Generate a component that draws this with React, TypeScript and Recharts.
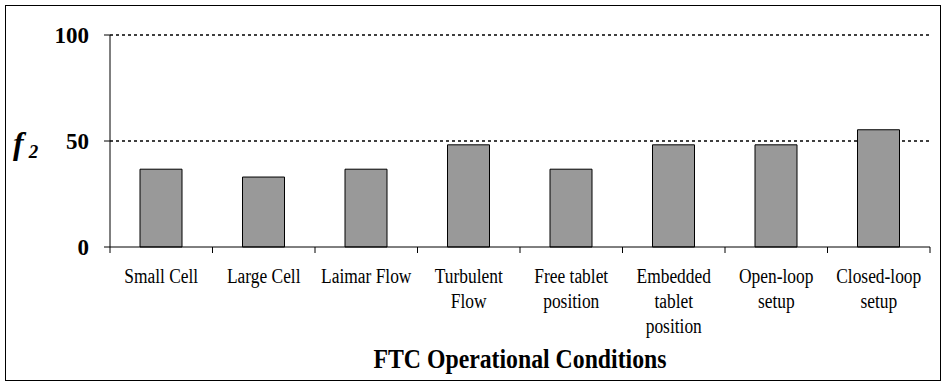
import React from 'react'
import { BarChart, Bar, XAxis, YAxis, CartesianGrid, Label } from 'recharts'

// FTC operational conditions (multi-line labels split on \n)
const conditions = [
  'Small Cell',
  'Large Cell',
  'Laimar Flow',
  'Turbulent\nFlow',
  'Free tablet\nposition',
  'Embedded\ntablet\nposition',
  'Open-loop\nsetup',
  'Closed-loop\nsetup',
]
const f2Values = [36.7, 33.0, 36.7, 48.2, 36.7, 48.2, 48.2, 55.3]
const yTicks = [0, 50, 100]
const xTitle = 'FTC Operational Conditions'

const data = conditions.map((c, i) => ({ name: c, f2: f2Values[i] }))

const W = 946
const H = 385
const TOP = 35
const LEFT = 110
const RIGHT = 16
const XAXIS_H = 138
const AXIS_Y = H - XAXIS_H
const BAND = (W - LEFT - RIGHT) / conditions.length
const FONT = "'Liberation Serif', 'Times New Roman', serif"

function CategoryTick(props: any) {
  const { x, payload, index } = props
  const lines = String(payload.value).split('\n')
  const left = x - BAND / 2
  return (
    <g>
      <line x1={left} x2={left} y1={AXIS_Y} y2={AXIS_Y + 6} stroke="#000" />
      {index === conditions.length - 1 && (
        <line x1={left + BAND} x2={left + BAND} y1={AXIS_Y} y2={AXIS_Y + 6} stroke="#000" />
      )}
      <text
        transform={`translate(${x},0) scale(0.87,1)`}
        textAnchor="middle"
        style={{ fontFamily: FONT, fontSize: 20 }}
        fill="#000"
      >
        {lines.map((l, i) => (
          <tspan key={i} x={0} y={AXIS_Y + 36 + i * 25}>
            {l}
          </tspan>
        ))}
      </text>
    </g>
  )
}

function ValueTick(props: any) {
  const { x, y, payload } = props
  return (
    <text
      x={x}
      y={y + 8}
      textAnchor="end"
      style={{ fontFamily: FONT, fontSize: 23, fontWeight: 'bold' }}
      fill="#000"
    >
      {payload.value}
    </text>
  )
}

// dotted grid lines, skipping the one that sits on the x axis
function GridLine(props: any) {
  const { x1, x2, y1, y2 } = props
  if (Math.abs(y1 - AXIS_Y) < 1) return <g />
  return <line x1={x1} x2={x2} y1={y1} y2={y2} stroke="#000" strokeWidth={1.5} strokeDasharray="3 3" />
}

export default function App() {
  return (
    <div style={{ position: 'absolute', left: 0, top: 0, width: W, height: H, background: '#fff', fontFamily: FONT }}>
      <div
        style={{
          position: 'absolute',
          left: 5,
          top: 5,
          width: 936,
          height: 376,
          border: '1px solid #000',
          boxSizing: 'border-box',
        }}
      />
      <BarChart
        width={W}
        height={H}
        data={data}
        margin={{ top: TOP, right: RIGHT, left: 0, bottom: 0 }}
        style={{ position: 'absolute', left: 0, top: 0, fontFamily: FONT }}
      >
        <CartesianGrid vertical={false} horizontal={(p: any) => <GridLine key={p.key} {...p} />} />
        <XAxis
          dataKey="name"
          height={XAXIS_H}
          interval={0}
          tickLine={false}
          axisLine={{ stroke: '#000' }}
          tick={<CategoryTick />}
        >
          <Label
            content={() => (
              <text
                transform={`translate(${LEFT + (W - LEFT - RIGHT) / 2},${H - 17}) scale(0.88,1)`}
                textAnchor="middle"
                style={{ fontFamily: FONT, fontSize: 27, fontWeight: 'bold' }}
                fill="#000"
              >
                {xTitle}
              </text>
            )}
          />
        </XAxis>
        <YAxis
          width={LEFT}
          domain={[0, 100]}
          ticks={yTicks}
          tickSize={6}
          tickMargin={15}
          axisLine={{ stroke: '#000' }}
          tickLine={{ stroke: '#000' }}
          tick={<ValueTick />}
        >
          <Label
            content={() => (
              <text x={13} y={154} style={{ fontFamily: FONT, fontWeight: 'bold', fontStyle: 'italic' }} fill="#000">
                <tspan style={{ fontSize: 32 }}>f</tspan>
                <tspan style={{ fontSize: 19 }} dx={5} dy={4}>2</tspan>
              </text>
            )}
          />
        </YAxis>
        <YAxis
          yAxisId="r"
          orientation="right"
          width={0}
          domain={[0, 100]}
          tick={false}
          tickLine={false}
          axisLine={{ stroke: '#808080' }}
        />
        <Bar dataKey="f2" fill="#999999" stroke="#000" strokeWidth={1} barSize={42} isAnimationActive={false} />
      </BarChart>
    </div>
  )
}
